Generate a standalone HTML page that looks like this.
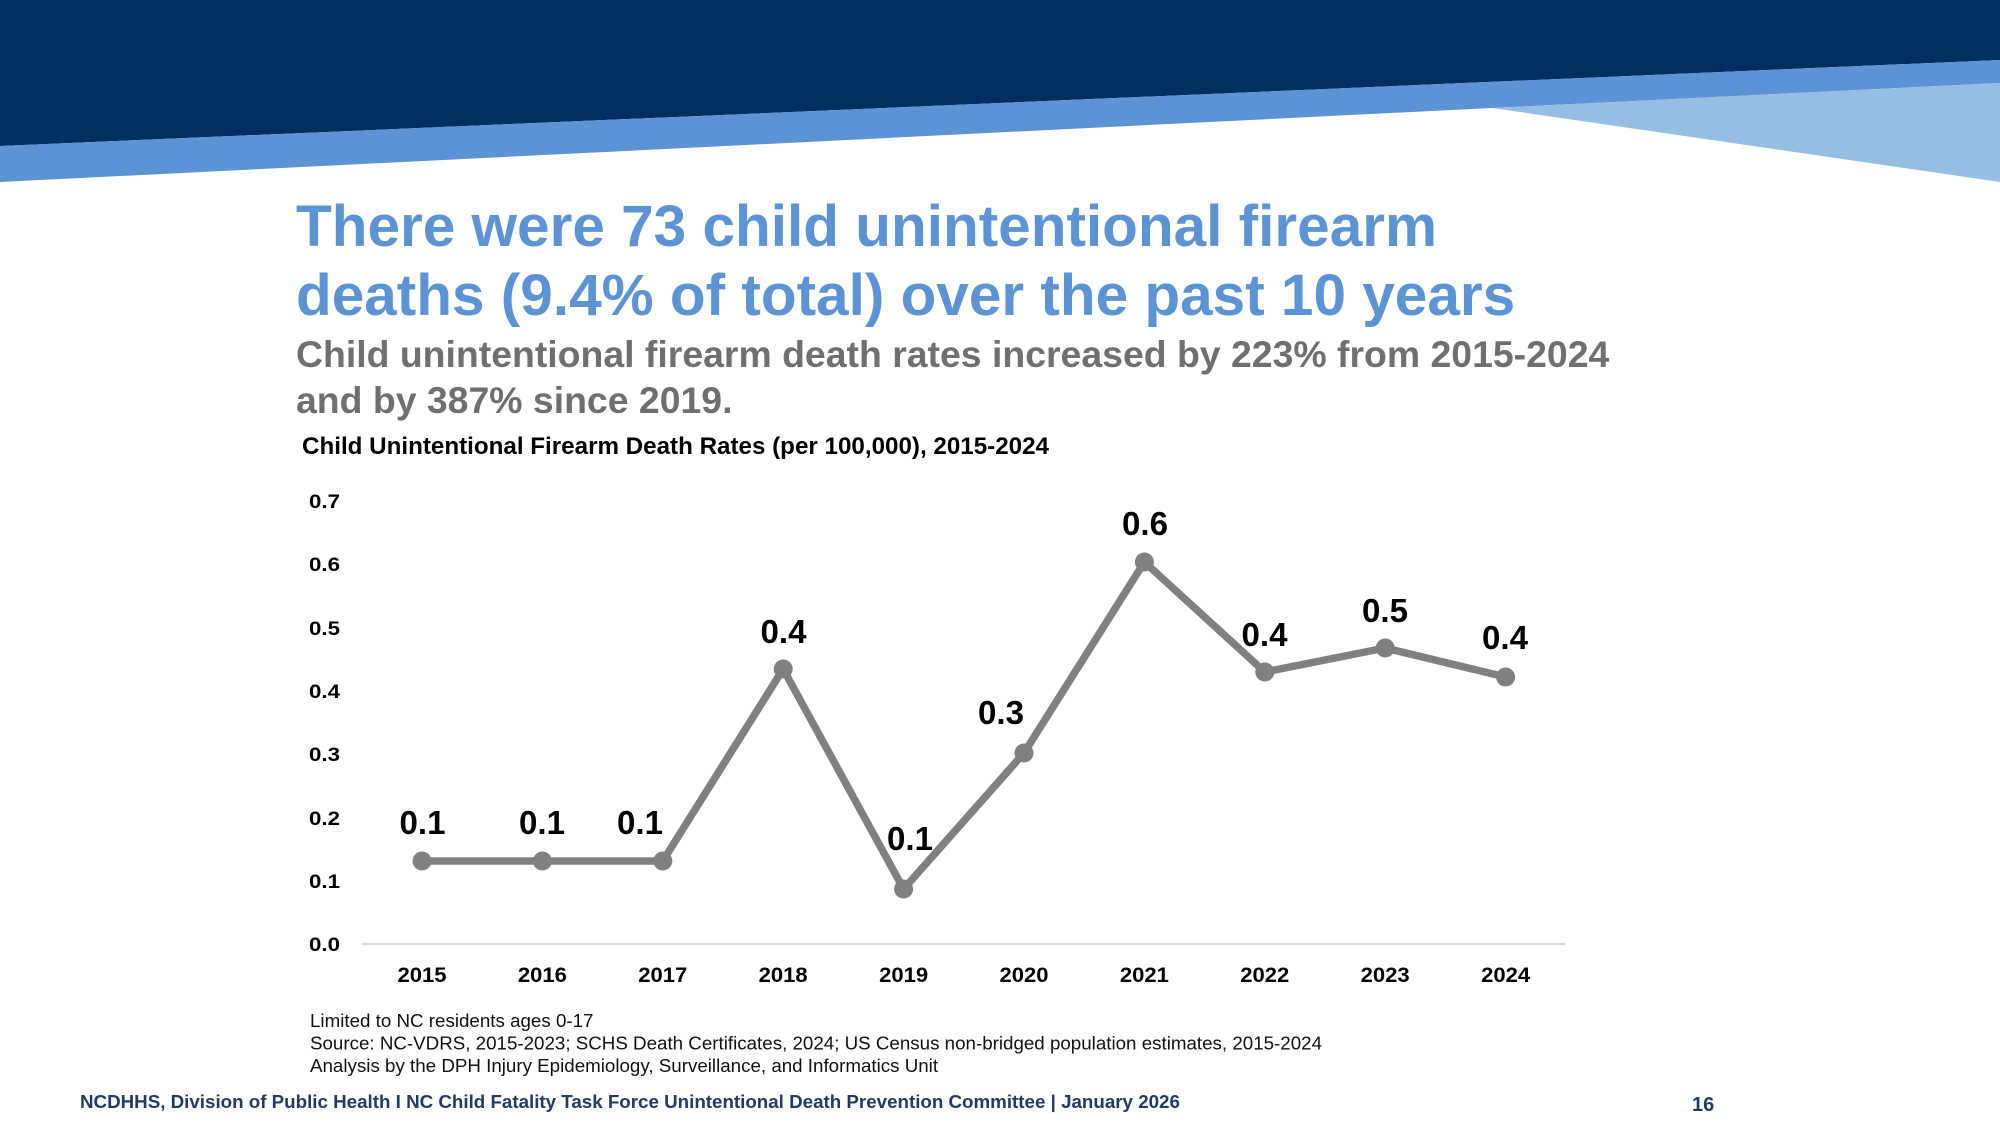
<!DOCTYPE html>
<html>
<head>
<meta charset="utf-8">
<style>
  html,body{margin:0;padding:0;background:#ffffff;}
  body{width:2000px;height:1125px;overflow:hidden;}
  svg{display:block;}
  text{font-family:"Liberation Sans", Arial, sans-serif;}
</style>
</head>
<body>
<svg width="2000" height="1125" viewBox="0 0 2000 1125" xmlns="http://www.w3.org/2000/svg">
  <rect x="0" y="0" width="2000" height="1125" fill="#ffffff"/>
  <!-- header bands -->
  <polygon points="0,0 2000,0 2000,60 0,146" fill="#002E5F"/>
  <polygon points="0,146 2000,60 2000,83 1492,108 0,182" fill="#5B93D5"/>
  <polygon points="1492,108 2000,83 2000,182" fill="#96BEE2"/>

  <!-- title -->
  <text x="296" y="246" font-size="58.5" font-weight="bold" fill="#5B93D5">There were 73 child unintentional firearm</text>
  <text x="296" y="315" font-size="58.5" font-weight="bold" fill="#5B93D5">deaths (9.4% of total) over the past 10 years</text>

  <!-- subtitle -->
  <text x="296" y="367" font-size="37.4" font-weight="bold" fill="#6F6F6F">Child unintentional firearm death rates increased by 223% from 2015-2024</text>
  <text x="296" y="413" font-size="37.4" font-weight="bold" fill="#6F6F6F">and by 387% since 2019.</text>

  <!-- chart title -->
  <text x="302" y="454" font-size="24" font-weight="bold" fill="#000000" textLength="747" lengthAdjust="spacingAndGlyphs">Child Unintentional Firearm Death Rates (per 100,000), 2015-2024</text>

  <!-- y axis labels -->
  <g font-size="19" font-weight="bold" fill="#000000">
    <text x="309" y="508" textLength="31" lengthAdjust="spacingAndGlyphs">0.7</text>
    <text x="309" y="571" textLength="31" lengthAdjust="spacingAndGlyphs">0.6</text>
    <text x="309" y="635" textLength="31" lengthAdjust="spacingAndGlyphs">0.5</text>
    <text x="309" y="698" textLength="31" lengthAdjust="spacingAndGlyphs">0.4</text>
    <text x="309" y="761" textLength="31" lengthAdjust="spacingAndGlyphs">0.3</text>
    <text x="309" y="825" textLength="31" lengthAdjust="spacingAndGlyphs">0.2</text>
    <text x="309" y="888" textLength="31" lengthAdjust="spacingAndGlyphs">0.1</text>
    <text x="309" y="951" textLength="31" lengthAdjust="spacingAndGlyphs">0.0</text>
  </g>

  <!-- x axis line -->
  <line x1="362" y1="944" x2="1565" y2="944" stroke="#D9D9D9" stroke-width="2.2"/>

  <!-- x axis labels -->
  <g font-size="21.5" font-weight="bold" fill="#000000">
    <text x="397.5" y="982" textLength="49" lengthAdjust="spacingAndGlyphs">2015</text>
    <text x="517.9" y="982" textLength="49" lengthAdjust="spacingAndGlyphs">2016</text>
    <text x="638.3" y="982" textLength="49" lengthAdjust="spacingAndGlyphs">2017</text>
    <text x="758.7" y="982" textLength="49" lengthAdjust="spacingAndGlyphs">2018</text>
    <text x="879.1" y="982" textLength="49" lengthAdjust="spacingAndGlyphs">2019</text>
    <text x="999.5" y="982" textLength="49" lengthAdjust="spacingAndGlyphs">2020</text>
    <text x="1119.9" y="982" textLength="49" lengthAdjust="spacingAndGlyphs">2021</text>
    <text x="1240.3" y="982" textLength="49" lengthAdjust="spacingAndGlyphs">2022</text>
    <text x="1360.7" y="982" textLength="49" lengthAdjust="spacingAndGlyphs">2023</text>
    <text x="1481.1" y="982" textLength="49" lengthAdjust="spacingAndGlyphs">2024</text>
  </g>

  <!-- series line -->
  <polyline points="422,861 542.4,861 662.8,861 783.2,669 903.6,889 1024,753 1144.4,562 1264.8,672 1385.2,648 1505.6,677"
            fill="none" stroke="#808080" stroke-width="7.5" stroke-linejoin="round" stroke-linecap="round"/>
  <g fill="#808080">
    <circle cx="422" cy="861" r="9.5"/>
    <circle cx="542.4" cy="861" r="9.5"/>
    <circle cx="662.8" cy="861" r="9.5"/>
    <circle cx="783.2" cy="669" r="9.5"/>
    <circle cx="903.6" cy="889" r="9.5"/>
    <circle cx="1024" cy="753" r="9.5"/>
    <circle cx="1144.4" cy="562" r="9.5"/>
    <circle cx="1264.8" cy="672" r="9.5"/>
    <circle cx="1385.2" cy="648" r="9.5"/>
    <circle cx="1505.6" cy="677" r="9.5"/>
  </g>

  <!-- data labels -->
  <g font-size="33" font-weight="bold" fill="#000000">
    <text x="399.5" y="834" textLength="46" lengthAdjust="spacingAndGlyphs">0.1</text>
    <text x="519" y="834" textLength="46" lengthAdjust="spacingAndGlyphs">0.1</text>
    <text x="617" y="834" textLength="46" lengthAdjust="spacingAndGlyphs">0.1</text>
    <text x="760.5" y="643" textLength="46" lengthAdjust="spacingAndGlyphs">0.4</text>
    <text x="887" y="850" textLength="46" lengthAdjust="spacingAndGlyphs">0.1</text>
    <text x="978" y="724" textLength="46" lengthAdjust="spacingAndGlyphs">0.3</text>
    <text x="1122" y="535" textLength="46" lengthAdjust="spacingAndGlyphs">0.6</text>
    <text x="1241.5" y="646" textLength="46" lengthAdjust="spacingAndGlyphs">0.4</text>
    <text x="1362" y="622" textLength="46" lengthAdjust="spacingAndGlyphs">0.5</text>
    <text x="1482" y="649" textLength="46" lengthAdjust="spacingAndGlyphs">0.4</text>
  </g>

  <!-- footnotes -->
  <g font-size="18.75" fill="#111111">
    <text x="310" y="1027">Limited to NC residents ages 0-17</text>
    <text x="310" y="1049.5">Source: NC-VDRS, 2015-2023; SCHS Death Certificates, 2024; US Census non-bridged population estimates, 2015-2024</text>
    <text x="310" y="1072">Analysis by the DPH Injury Epidemiology, Surveillance, and Informatics Unit</text>
  </g>

  <!-- footer -->
  <text x="80" y="1108" font-size="18.75" font-weight="bold" fill="#1F3B66">NCDHHS, Division of Public Health I NC Child Fatality Task Force Unintentional Death Prevention Committee | January 2026</text>
  <text x="1692" y="1111" font-size="20" font-weight="bold" fill="#1F3B66">16</text>
</svg>
</body>
</html>
